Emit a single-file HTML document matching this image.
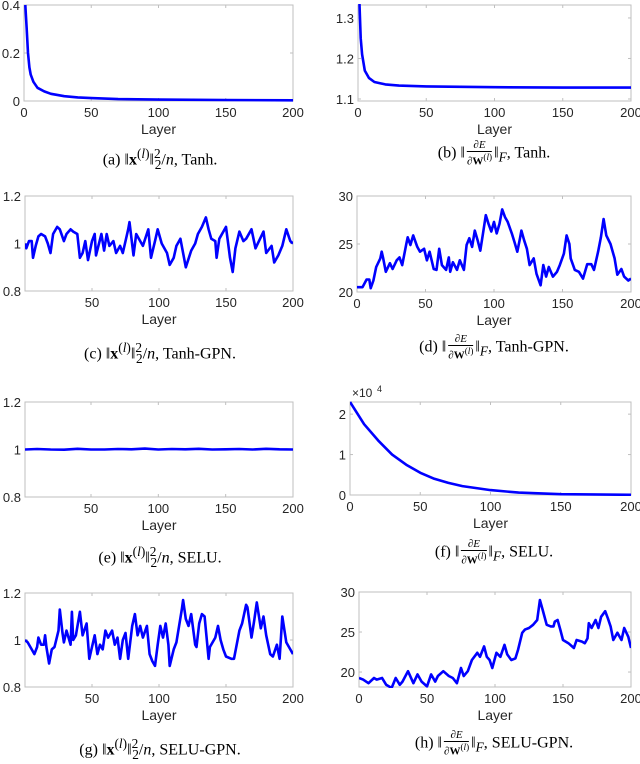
<!DOCTYPE html>
<html><head><meta charset="utf-8">
<style>
body{margin:0;background:#fff;width:640px;height:758px;overflow:hidden;position:relative;font-family:"Liberation Sans",sans-serif}
svg{position:absolute;left:0;top:0}
.cap{position:absolute;font-family:"Liberation Serif",serif;font-size:16px;color:#000;white-space:nowrap;transform:translateX(-50%);line-height:18px}
.cap i{font-style:italic}
.fr{display:inline-block;vertical-align:middle;text-align:center;font-size:11px;line-height:11px;margin:0 2px}
.fr span{display:block}
.fr .n{border-bottom:1px solid #000;padding:0 1px}
</style></head><body>
<svg id="chart" width="640" height="758"></svg>

<div class="cap" style="left:160px;top:145px">(a) ‖<b>x</b><sup>(<i>l</i>)</sup>‖<sup>2</sup><sub style="margin-left:-6px">2</sub>/<i>n</i>, Tanh.</div>
<div class="cap" style="left:494px;top:140px">(b) ‖<span class="fr"><span class="n">∂<i>E</i></span><span>∂<b>W</b><sup>(<i>l</i>)</sup></span></span>‖<sub><i>F</i></sub>, Tanh.</div>
<div class="cap" style="left:160px;top:339px">(c) ‖<b>x</b><sup>(<i>l</i>)</sup>‖<sup>2</sup><sub style="margin-left:-6px">2</sub>/<i>n</i>, Tanh-GPN.</div>
<div class="cap" style="left:494px;top:334px">(d) ‖<span class="fr"><span class="n">∂<i>E</i></span><span>∂<b>W</b><sup>(<i>l</i>)</sup></span></span>‖<sub><i>F</i></sub>, Tanh-GPN.</div>
<div class="cap" style="left:160px;top:543px">(e) ‖<b>x</b><sup>(<i>l</i>)</sup>‖<sup>2</sup><sub style="margin-left:-6px">2</sub>/<i>n</i>, SELU.</div>
<div class="cap" style="left:494px;top:539px">(f) ‖<span class="fr"><span class="n">∂<i>E</i></span><span>∂<b>W</b><sup>(<i>l</i>)</sup></span></span>‖<sub><i>F</i></sub>, SELU.</div>
<div class="cap" style="left:160px;top:735px">(g) ‖<b>x</b><sup>(<i>l</i>)</sup>‖<sup>2</sup><sub style="margin-left:-6px">2</sub>/<i>n</i>, SELU-GPN.</div>
<div class="cap" style="left:494px;top:730px">(h) ‖<span class="fr"><span class="n">∂<i>E</i></span><span>∂<b>W</b><sup>(<i>l</i>)</sup></span></span>‖<sub><i>F</i></sub>, SELU-GPN.</div>

<script>
// ---- data (layer index, value) ----
const aLayers=[1,2,3,4,5,7,10,15,20,30,40,50,70,100,150,200];
const aValues=[0.4,0.3,0.2,0.14,0.11,0.08,0.055,0.04,0.03,0.02,0.015,0.012,0.008,0.006,0.004,0.003];
const bLayers=[1,2,3,5,8,12,20,30,50,100,150,200];
const bValues=[1.34,1.25,1.21,1.17,1.152,1.142,1.136,1.133,1.131,1.129,1.128,1.128];
const cLayers=[0,1,3,5,6,8,10,12,15,17,19,21,24,26,29,31,34,36,39,41,43,45,47,50,52,53,57,59,61,63,66,68,71,73,77,78,81,83,86,88,92,94,97,99,102,106,108,111,113,116,118,120,124,127,129,132,135,137,139,142,143,145,150,153,155,157,160,163,165,169,172,178,180,184,186,189,192,195,198,200];
const cValues=[1.0,0.98,1.01,1.01,0.94,0.99,1.03,1.04,1.03,1.0,0.96,1.04,1.07,1.06,1.01,1.04,1.06,1.05,1.04,0.94,0.96,1.01,0.93,1.01,1.04,0.95,1.04,0.97,1.04,0.99,1.01,0.96,0.99,0.96,1.06,1.09,0.95,1.04,1.01,0.99,1.06,0.94,1.01,1.06,1.0,0.96,0.91,0.94,0.99,1.02,0.96,0.9,0.97,1.0,1.04,1.07,1.11,1.06,1.02,1.01,0.94,1.02,1.07,0.94,0.88,0.98,1.05,1.01,1.02,1.06,0.98,1.05,0.96,0.99,0.92,0.95,0.99,1.06,1.01,1.0];
const dLayers=[0,4,7,9,10,12,14,17,18,19,21,24,26,29,31,33,36,37,39,41,44,46,49,51,53,56,58,60,62,65,67,68,70,73,75,78,80,82,84,86,88,90,92,94,96,98,100,102,104,106,108,110,113,115,117,119,120,122,124,126,129,131,134,136,138,140,143,146,148,151,153,155,156,159,162,165,168,171,173,176,178,180,182,185,188,190,193,195,198,200];
const dValues=[20.5,20.5,21.3,21.3,20.4,21.2,22.6,23.5,24.2,23.6,22.1,23.0,22.4,23.3,23.6,22.8,25.0,25.7,24.9,25.9,24.7,24.2,24.5,23.3,24.2,22.4,22.3,24.5,22.8,22.3,23.6,22.1,23.1,22.3,23.3,22.3,24.9,25.6,24.7,26.4,25.4,24.3,26.1,28.0,27.1,26.3,27.3,26.1,27.1,28.6,27.8,27.3,26.1,25.2,24.2,25.6,26.4,25.4,24.5,22.8,23.5,21.9,20.7,22.8,21.6,22.6,21.6,22.1,22.8,24.0,25.9,25.0,23.5,22.3,22.1,21.4,22.9,22.9,22.3,24.2,25.7,27.6,25.9,25.0,23.5,21.8,22.4,21.6,21.2,21.4];
const eLayers=[1,10,20,30,40,50,60,70,80,90,100,110,120,130,140,150,160,170,180,190,200];
const eValues=[1.0,1.002,1.0,0.999,1.003,1.0,1.0,1.002,1.001,1.004,1.0,1.002,1.001,1.003,1.0,1.001,1.002,1.0,1.003,1.001,1.0];
const fLayers=[0,10,20,30,40,50,60,70,80,100,120,150,200];
const fValues=[2.3,1.75,1.35,1.0,0.75,0.55,0.4,0.3,0.22,0.12,0.06,0.02,0.005];
const gLayers=[0,2,5,7,9,10,12,14,15,16,18,20,22,25,26,28,29,31,34,35,36,38,41,43,46,48,50,52,54,56,58,60,62,65,67,69,71,73,75,77,80,82,84,86,88,91,93,95,97,99,101,103,105,107,108,111,113,115,117,118,120,122,124,127,128,130,132,134,137,138,142,144,146,148,150,154,156,160,162,165,166,169,171,173,176,178,180,183,185,188,190,192,195,198,200];
const gValues=[1.0,0.99,0.96,0.94,0.97,1.01,0.98,0.98,1.02,0.97,0.9,0.96,0.97,1.04,1.13,1.03,0.99,1.04,0.98,1.12,1.0,1.02,1.12,1.02,1.07,0.92,0.97,1.02,0.94,0.98,0.96,1.04,1.01,1.04,0.98,1.01,0.92,1.0,1.03,0.92,1.06,1.11,1.02,1.06,1.01,1.06,0.94,0.91,0.89,0.98,1.06,1.01,1.07,0.98,0.89,0.96,0.99,1.06,1.13,1.17,1.09,1.06,1.11,0.98,0.97,1.07,1.11,1.1,0.92,0.97,1.01,1.06,1.0,0.96,0.93,0.92,0.92,1.04,1.07,1.15,1.14,1.01,1.08,1.16,1.05,1.1,1.02,0.94,0.93,0.98,0.92,1.1,0.99,0.96,0.94];
const hLayers=[0,3,7,11,13,17,20,24,27,30,32,36,40,43,46,50,53,56,58,62,66,69,72,75,77,80,83,87,89,92,94,96,98,101,104,107,109,112,115,117,120,122,125,128,131,133,135,138,141,143,144,146,148,150,154,158,160,164,166,168,169,171,174,176,178,181,183,185,187,190,193,195,198,200];
const hValues=[19.25,19.05,18.6,19.25,19.05,19.25,18.4,18.0,19.25,18.4,18.8,20.1,18.6,19.7,18.8,18.2,19.7,18.8,19.5,20.1,19.5,19.25,18.6,20.5,19.5,20.1,21.5,22.4,21.9,23.2,21.9,21.5,20.5,22.4,21.9,23.4,22.2,21.5,21.7,22.8,24.9,25.3,25.5,25.9,26.5,29.0,27.8,25.9,25.7,25.7,26.3,26.5,25.3,24.0,23.6,23.0,24.0,23.8,23.6,24.2,26.1,25.5,26.5,25.5,26.9,27.6,26.7,25.7,24.0,24.9,24.0,25.5,24.4,23.0];
const xTicksFull=[0,50,100,150,200];
const xTicksNoZero=[50,100,150,200];

const NS="http://www.w3.org/2000/svg";
const svg=document.getElementById('chart');
function mk(tag,attrs,parent){const e=document.createElementNS(NS,tag);for(const k in attrs)e.setAttribute(k,attrs[k]);(parent||svg).appendChild(e);return e;}

function panel(id,box,xdom,ydom,yticks,ylabels,xticks,xs,ys,extra){
  const g=mk('g',{});
  
  
  const [L,T,R,B]=box;
  const sx=v=>L+(v-xdom[0])/(xdom[1]-xdom[0])*(R-L);
  const sy=v=>B-(v-ydom[0])/(ydom[1]-ydom[0])*(B-T);
  const frame=mk('rect',{x:L,y:T,width:R-L,height:B-T,fill:'#fff',stroke:'#bfbfbf','stroke-width':1},g);
  
  
  yticks.forEach((t,i)=>{
    const y=sy(t);
    mk('line',{x1:L,x2:L+3,y1:y,y2:y,stroke:'#bfbfbf'},g);
    mk('line',{x1:R,x2:R-3,y1:y,y2:y,stroke:'#bfbfbf'},g);
    const tx=mk('text',{x:L-4,y:y+5,'text-anchor':'end','font-size':13,fill:'#262626'},g);
    tx.textContent=ylabels[i];
    
    
  });
  xticks.forEach(t=>{
    const x=sx(t);
    mk('line',{x1:x,x2:x,y1:B,y2:B-3,stroke:'#bfbfbf'},g);
    mk('line',{x1:x,x2:x,y1:T,y2:T+3,stroke:'#bfbfbf'},g);
    const tx=mk('text',{x:x,y:B+16,'text-anchor':'middle','font-size':13,fill:'#262626'},g);
    tx.textContent=String(t);
    
    
  });
  const xl=mk('text',{x:(L+R)/2,y:B+33,'text-anchor':'middle','font-size':14,fill:'#262626'},g);
  xl.textContent='Layer';
  
  
  const cp=mk('clipPath',{id:'clip-'+id},g);
  mk('rect',{x:L,y:T-1,width:R-L,height:B-T+2},cp);
  const d=xs.map((x,i)=>(i?'L':'M')+sx(x).toFixed(1)+','+sy(ys[i]).toFixed(1)).join('');
  const p=mk('path',{d:d,fill:'none',stroke:'#0000ff','stroke-width':2.6,'stroke-linejoin':'round','clip-path':'url(#clip-'+id+')'},g);
  
  
  if(extra)extra(g,L,T);
}

panel('a',[24,5,293,101],[0,200],[0,0.4],[0,0.2,0.4],['0','0.2','0.4'],xTicksFull,aLayers,aValues);
panel('b',[358,5,631,101],[0,200],[1.095,1.332],[1.1,1.2,1.3],['1.1','1.2','1.3'],xTicksFull,bLayers,bValues);
panel('c',[25,196,293,291],[0,200],[0.8,1.2],[0.8,1,1.2],['0.8','1','1.2'],xTicksNoZero,cLayers,cValues);
panel('d',[357,196,631,292],[0,200],[20,30],[20,25,30],['20','25','30'],xTicksFull,dLayers,dValues);
panel('e',[25,402,293,497],[1,200],[0.8,1.2],[0.8,1,1.2],['0.8','1','1.2'],xTicksNoZero,eLayers,eValues);
panel('f',[350,402,631,495],[0,200],[0,2.3],[0,1,2],['0','1','2'],xTicksFull,fLayers,fValues,(g,L,T)=>{
  const t=mk('text',{x:L+2,y:T-5,'font-size':12,fill:'#262626'},g);
  t.textContent='×10';
  
  
  const s=mk('text',{x:L+27,y:T-10,'font-size':9,fill:'#262626'},g);
  s.textContent='4';
  
  
});
panel('g',[25,593,293,687],[0,200],[0.8,1.2],[0.8,1,1.2],['0.8','1','1.2'],xTicksNoZero,gLayers,gValues);
panel('h',[359,592,631,687],[0,200],[18.13,30],[20,25,30],['20','25','30'],xTicksFull,hLayers,hValues);
</script>
</body></html>
